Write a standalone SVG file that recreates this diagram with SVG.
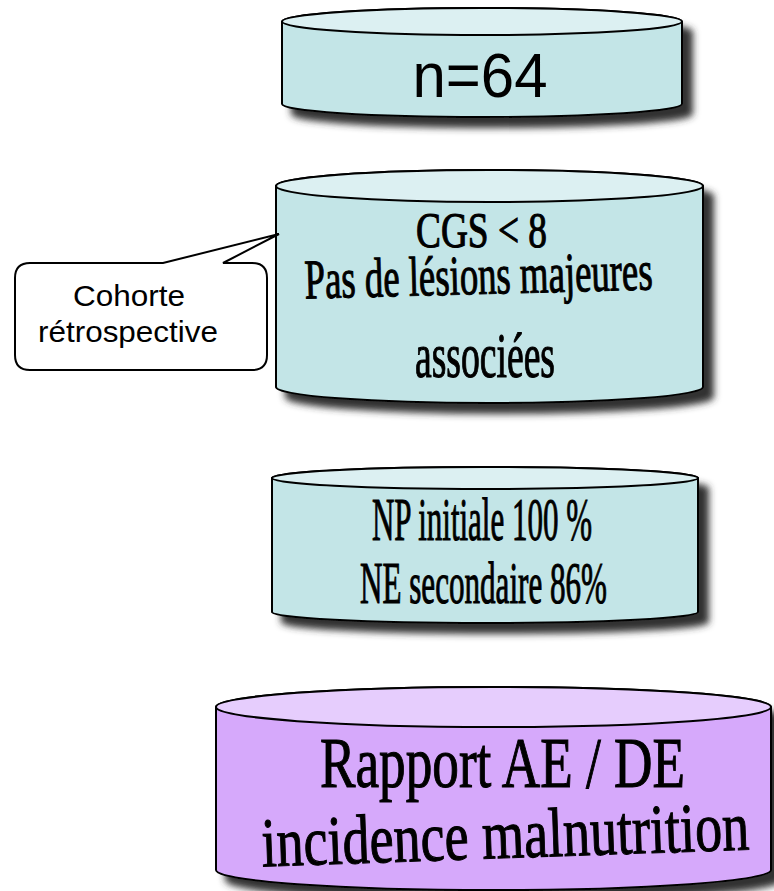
<svg xmlns="http://www.w3.org/2000/svg" width="774" height="891" viewBox="0 0 774 891">
<defs>
<filter id="shadow" x="-10%" y="-20%" width="130%" height="150%">
<feGaussianBlur in="SourceAlpha" stdDeviation="3.5" result="b"/>
<feOffset in="b" dx="10" dy="10" result="o"/>
<feFlood flood-color="#333333"/>
<feComposite in2="o" operator="in" result="s"/>
<feMerge><feMergeNode in="s"/><feMergeNode in="SourceGraphic"/></feMerge>
</filter>
<style>
.body{stroke:#000;stroke-width:2}
.cyan{fill:#c3e5e7}
.cyanTop{fill:#dcf0f2;stroke:#000;stroke-width:2}
.purple{fill:#d6a9fb}
.purpleTop{fill:#e6cdfd;stroke:#000;stroke-width:2}
.serif{font-family:"Liberation Serif","Times New Roman",serif;fill:#000;stroke:#000;stroke-width:1.1;text-anchor:middle}
.sans{font-family:"Liberation Sans",Arial,sans-serif;fill:#000;text-anchor:middle}
</style>
</defs>
<rect width="774" height="891" fill="#fff"/>

<g id="n64">
<path class="body cyan" filter="url(#shadow)" d="M282,21.5 A200,13.5 0 0 1 682,21.5 V104 A200,13 0 0 1 282,104 Z"/>
<ellipse class="cyanTop" cx="482" cy="21.5" rx="200" ry="13.5"/>
<text class="sans" x="480" y="97" font-size="63" textLength="135" lengthAdjust="spacingAndGlyphs">n=64</text>
</g>

<g id="criteria">
<path class="body cyan" filter="url(#shadow)" d="M276,186 A213.5,16 0 0 1 703,186 V387 A213.5,16 0 0 1 276,387 Z"/>
<ellipse class="cyanTop" cx="489.5" cy="186" rx="213.5" ry="16"/>
<text class="serif" x="481.5" y="247" font-size="50" textLength="131" lengthAdjust="spacingAndGlyphs">CGS &lt; 8</text>
<text class="serif" x="479" y="294" font-size="56" textLength="348" lengthAdjust="spacingAndGlyphs" transform="rotate(-1.5 479 294)">Pas de lésions majeures</text>
<text class="serif" x="485" y="377" font-size="63" textLength="140" lengthAdjust="spacingAndGlyphs">associées</text>
</g>

<g id="callout">
<path d="M30,263 H163 L279,234 L223,263 H252 Q267,263 267,278 V355 Q267,370 252,370 H30 Q15,370 15,355 V278 Q15,263 30,263 Z" fill="#fff" stroke="#000" stroke-width="2"/>
<text class="sans" x="129" y="306" font-size="29" textLength="112" lengthAdjust="spacingAndGlyphs">Cohorte</text>
<text class="sans" x="128" y="342" font-size="29" textLength="180" lengthAdjust="spacingAndGlyphs">rétrospective</text>
</g>

<g id="nutrition">
<path class="body cyan" filter="url(#shadow)" d="M272,478 A213,11 0 0 1 698,478 V612 A213,11 0 0 1 272,612 Z"/>
<ellipse class="cyanTop" cx="485" cy="478" rx="213" ry="11"/>
<text class="serif" x="482" y="540" font-size="62" textLength="220" lengthAdjust="spacingAndGlyphs">NP initiale 100 %</text>
<text class="serif" x="483.5" y="603" font-size="59" textLength="247" lengthAdjust="spacingAndGlyphs">NE secondaire 86%</text>
</g>

<g id="outcome">
<path class="body purple" filter="url(#shadow)" d="M216,707 A277.5,20 0 0 1 771,707 V870 A277.5,20 0 0 1 216,870 Z"/>
<ellipse class="purpleTop" cx="493.5" cy="707" rx="277.5" ry="20"/>
<text class="serif" x="502.5" y="787" font-size="71" textLength="365" lengthAdjust="spacingAndGlyphs">Rapport AE / DE</text>
<text class="serif" x="506" y="858" font-size="70" textLength="488" lengthAdjust="spacingAndGlyphs" transform="rotate(-2 506 858)">incidence malnutrition</text>
</g>

<g id="connectors"/>
</svg>
